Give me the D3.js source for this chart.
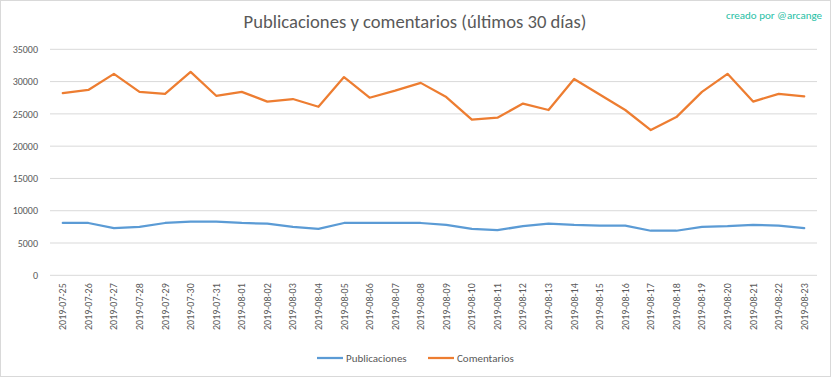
<!DOCTYPE html>
<html><head><meta charset="utf-8">
<script src="https://cdn.jsdelivr.net/npm/d3@7"></script>
<style>body{margin:0;background:#fff;} svg{display:block;}</style>
</head><body>
<svg id="c" width="832" height="378"></svg>
<script>
const dates = ["2019-07-25","2019-07-26","2019-07-27","2019-07-28","2019-07-29","2019-07-30","2019-07-31","2019-08-01","2019-08-02","2019-08-03","2019-08-04","2019-08-05","2019-08-06","2019-08-07","2019-08-08","2019-08-09","2019-08-10","2019-08-11","2019-08-12","2019-08-13","2019-08-14","2019-08-15","2019-08-16","2019-08-17","2019-08-18","2019-08-19","2019-08-20","2019-08-21","2019-08-22","2019-08-23"];
const publicaciones = [8100,8100,7300,7500,8100,8300,8300,8100,8000,7500,7200,8100,8100,8100,8100,7800,7200,7000,7600,8000,7800,7700,7700,6900,6900,7500,7600,7800,7700,7300];
const comentarios = [28200,28700,31200,28400,28100,31500,27800,28400,26900,27300,26100,30700,27500,28600,29800,27600,24100,24400,26600,25600,30400,28000,25600,22500,24500,28400,31200,26900,28100,27700];
const yTicks = [0,5000,10000,15000,20000,25000,30000,35000];
const seriesNames = ["Publicaciones","Comentarios"];
const colors = ["#5b9bd5","#ed7d31"];

const font = "Calibri, Carlito, Lato, sans-serif";
const svg = d3.select("#c");
svg.append("rect").attr("x",0.5).attr("y",0.5).attr("width",830).attr("height",376)
  .attr("fill","#fff").attr("stroke","#d9d9d9");

const L = 50, R = 817, T = 49.3, B = 275.3;
const x = d3.scaleBand().domain(dates).range([L,R]);
const y = d3.scaleLinear().domain([0,35000]).range([B,T]);

// gridlines
svg.append("g").selectAll("line").data(yTicks).join("line")
  .attr("x1",L).attr("x2",R).attr("y1",d=>y(d)).attr("y2",d=>y(d))
  .attr("stroke","#d9d9d9").attr("stroke-width",1);

// y axis
const ya = svg.append("g").attr("transform",`translate(${L},0)`)
  .call(d3.axisLeft(y).tickValues(yTicks).tickSize(0).tickPadding(12).tickFormat(d3.format("d")));
ya.select(".domain").remove();
ya.selectAll("text").attr("fill","#595959").style("font-family",font).style("font-size","10px");

// x axis
const xa = svg.append("g").attr("transform",`translate(0,${B})`)
  .call(d3.axisBottom(x).tickSize(0));
xa.select(".domain").remove();
xa.selectAll("text").attr("fill","#595959").style("font-family",font).style("font-size","10px")
  .attr("text-anchor","end").attr("transform","rotate(-90)").attr("x",-8).attr("y",0).attr("dy","0.35em");

// lines
const line = d3.line().x((d,i)=>x(dates[i])+x.bandwidth()/2).y(d=>y(d));
[publicaciones, comentarios].forEach((s,k)=>{
  svg.append("path").datum(s).attr("d",line).attr("fill","none")
    .attr("stroke",colors[k]).attr("stroke-width",2.25).attr("stroke-linejoin","round").attr("stroke-linecap","round");
});

// title
const title = svg.append("text").attr("x",415).attr("y",28).attr("text-anchor","middle")
  .attr("fill","#595959").style("font-family",font).style("font-size","18px").style("font-weight","300")
  .text("Publicaciones y comentarios (últimos 30 días)");
const tw = title.node().getComputedTextLength();
title.style("font-size",(18*343/tw).toFixed(2)+"px");

svg.append("text").attr("x",822).attr("y",19).attr("text-anchor","end")
  .attr("fill","#1fc0a5").style("font-family",font).style("font-size","11px")
  .text("creado por @arcange");

// legend
const lg = svg.append("g");
const legX = [317, 428];
seriesNames.forEach((n,k)=>{
  lg.append("line").attr("x1",legX[k]).attr("x2",legX[k]+26).attr("y1",358).attr("y2",358)
    .attr("stroke",colors[k]).attr("stroke-width",2.25);
  lg.append("text").attr("x",legX[k]+29).attr("y",358).attr("dy","0.35em")
    .attr("fill","#595959").style("font-family",font).style("font-size","11px").text(n);
});
</script>
</body></html>
